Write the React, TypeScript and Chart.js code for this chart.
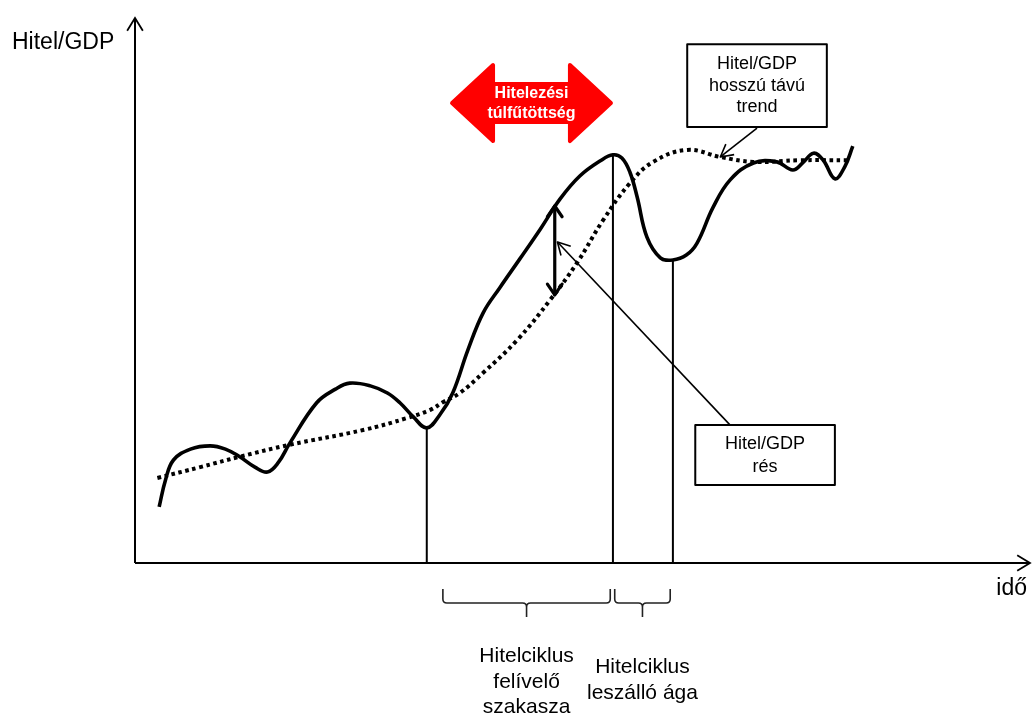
import React, { useEffect, useRef } from "react";
import { Chart, registerables } from "chart.js";

Chart.register(...registerables);

// ---- Data (arbitrary units: time 0–100, Hitel/GDP 0–100) ----
const creditGdpX = [2.7, 3.4, 4.3, 6.2, 8.4, 10.1, 11.7, 13.4, 14.8, 16.0, 17.3, 20.3, 22.4, 24.0, 26.3, 28.2, 29.6, 31.1, 32.6, 34.1, 35.5, 37.2, 38.9, 40.8, 43.0, 45.3, 47.5, 49.7, 52.0, 53.4, 54.4, 55.3, 56.1, 57.2, 58.7, 60.1, 61.6, 62.8, 64.6, 66.5, 69.1, 71.7, 73.5, 74.6, 75.8, 76.9, 78.2, 79.3, 80.2];
const creditGdpY = [10.3, 15.2, 18.9, 20.9, 21.5, 20.9, 19.5, 17.6, 16.7, 18.4, 22.0, 29.4, 31.9, 33.0, 32.5, 31.2, 29.4, 26.8, 24.8, 27.3, 31.2, 39.1, 45.9, 50.6, 55.8, 61.3, 66.8, 71.0, 73.8, 74.9, 74.3, 71.7, 67.2, 59.8, 56.0, 55.6, 56.5, 58.7, 65.3, 70.3, 73.4, 73.6, 72.1, 73.4, 75.2, 73.9, 70.5, 72.7, 76.5];

const trendX = [2.5, 7.3, 11.7, 17.3, 25.5, 30.4, 33.0, 34.4, 36.3, 38.9, 42.7, 46.4, 49.4, 52.3, 55.3, 57.9, 61.7, 65.4, 69.1, 74.3, 79.6];
const trendY = [15.6, 17.6, 19.5, 21.7, 24.4, 26.6, 28.1, 29.5, 31.2, 34.9, 40.9, 48.3, 55.1, 62.9, 69.7, 73.6, 75.8, 74.5, 73.6, 73.9, 73.9];

// turning points of the credit cycle (x values present in creditGdpX)
const turningPointsX = [32.6, 53.4, 60.1];

// phases (brackets under the time axis)
const phaseStart = [34.4, 53.6];
const phaseEnd = [53.1, 59.8];
const phaseLabels = [
  ["Hitelciklus", "felívelő", "szakasza"],
  ["Hitelciklus", "leszálló ága"],
];

// credit-to-GDP gap marker
const gapX = 46.9;
const gapTop = 65.5;
const gapBottom = 49.2;

// texts
const yAxisLabel = "Hitel/GDP";
const xAxisLabel = "idő";
const trendBoxLines = ["Hitel/GDP", "hosszú távú", "trend"];
const gapBoxLines = ["Hitel/GDP", "rés"];
const overheatingLines = ["Hitelezési", "túlfűtöttség"];

// ---- layout of annotations (data coordinates, sizes in px) ----
const layout = {
  trendBox: { x0: 61.7, x1: 77.3, y0: 95.2, y1: 80.0 },
  trendPointer: { fx: 69.5, fy: 79.8, tx: 65.4, ty: 74.5 },
  gapBox: { x0: 62.6, x1: 78.2, y0: 25.3, y1: 14.3 },
  gapPointer: { fx: 66.5, fy: 25.3, tx: 47.2, ty: 58.9 },
  overheating: { x0: 35.2, x1: 53.4, y: 84.4 },
};

const FONT = '"Liberation Sans", Arial, sans-serif';

function openHead(ctx: CanvasRenderingContext2D, tx: number, ty: number, fx: number, fy: number, len: number, spread: number) {
  const a = Math.atan2(fy - ty, fx - tx);
  ctx.beginPath();
  ctx.moveTo(tx + len * Math.cos(a + spread), ty + len * Math.sin(a + spread));
  ctx.lineTo(tx, ty);
  ctx.lineTo(tx + len * Math.cos(a - spread), ty + len * Math.sin(a - spread));
  ctx.stroke();
}

function bracket(ctx: CanvasRenderingContext2D, x1: number, x2: number, top: number, mid: number, bottom: number) {
  const xc = (x1 + x2) / 2;
  const r = 4;
  ctx.beginPath();
  ctx.moveTo(x1, top);
  ctx.lineTo(x1, mid - r);
  ctx.quadraticCurveTo(x1, mid, x1 + r, mid);
  ctx.lineTo(xc - r, mid);
  ctx.quadraticCurveTo(xc, mid, xc, mid + r);
  ctx.lineTo(xc, bottom);
  ctx.moveTo(xc, mid + r);
  ctx.quadraticCurveTo(xc, mid, xc + r, mid);
  ctx.lineTo(x2 - r, mid);
  ctx.quadraticCurveTo(x2, mid, x2, mid - r);
  ctx.lineTo(x2, top);
  ctx.stroke();
}

const axesPlugin = {
  id: "axesPlugin",
  beforeDatasetsDraw(chart: any) {
    const { ctx, chartArea: ca } = chart;
    ctx.save();
    ctx.strokeStyle = "#000";
    ctx.lineWidth = 2;
    ctx.beginPath();
    ctx.moveTo(ca.left, ca.bottom);
    ctx.lineTo(ca.left, ca.top);
    ctx.moveTo(ca.left, ca.bottom);
    ctx.lineTo(ca.right, ca.bottom);
    ctx.stroke();
    ctx.lineWidth = 1.8;
    openHead(ctx, ca.left, ca.top, ca.left, ca.bottom, 15, 0.55);
    openHead(ctx, ca.right, ca.bottom, ca.left, ca.bottom, 15, 0.55);
    ctx.restore();
  },
};

const annotationPlugin = {
  id: "annotationPlugin",
  afterDatasetsDraw(chart: any) {
    const { ctx, chartArea: ca, scales } = chart;
    const px = (v: number) => scales.x.getPixelForValue(v);
    const py = (v: number) => scales.y.getPixelForValue(v);
    ctx.save();

    // axis labels
    ctx.fillStyle = "#000";
    ctx.font = `23px ${FONT}`;
    ctx.textBaseline = "alphabetic";
    ctx.textAlign = "left";
    ctx.fillText(yAxisLabel, ca.left - 123, ca.top + 31);
    ctx.textAlign = "right";
    ctx.fillText(xAxisLabel, ca.right - 3, ca.bottom + 32);

    // gap double arrow
    const gx = px(gapX);
    const gt = py(gapTop);
    const gb = py(gapBottom);
    ctx.strokeStyle = "#000";
    ctx.lineWidth = 3.2;
    ctx.lineCap = "round";
    ctx.lineJoin = "round";
    ctx.beginPath();
    ctx.moveTo(gx, gt);
    ctx.lineTo(gx, gb);
    ctx.stroke();
    openHead(ctx, gx, gt, gx, gb, 13, 0.6);
    openHead(ctx, gx, gb, gx, gt, 13, 0.6);

    // pointers
    ctx.lineWidth = 1.6;
    ctx.lineCap = "butt";
    const tp = layout.trendPointer;
    ctx.beginPath();
    ctx.moveTo(px(tp.fx), py(tp.fy));
    ctx.lineTo(px(tp.tx), py(tp.ty));
    ctx.stroke();
    openHead(ctx, px(tp.tx), py(tp.ty), px(tp.fx), py(tp.fy), 14, 0.5);
    const gp = layout.gapPointer;
    ctx.beginPath();
    ctx.moveTo(px(gp.fx), py(gp.fy));
    ctx.lineTo(px(gp.tx), py(gp.ty));
    ctx.stroke();
    openHead(ctx, px(gp.tx), py(gp.ty), px(gp.fx), py(gp.fy), 14, 0.5);

    // boxes
    const drawBox = (b: any, lines: string[], lineH: number) => {
      const x0 = px(b.x0), x1 = px(b.x1), y0 = py(b.y0), y1 = py(b.y1);
      ctx.fillStyle = "#fff";
      ctx.fillRect(x0, y0, x1 - x0, y1 - y0);
      ctx.strokeStyle = "#000";
      ctx.lineWidth = 2;
      ctx.strokeRect(x0, y0, x1 - x0, y1 - y0);
      ctx.fillStyle = "#000";
      ctx.font = `18px ${FONT}`;
      ctx.textAlign = "center";
      ctx.textBaseline = "middle";
      const cx = (x0 + x1) / 2;
      const cy = (y0 + y1) / 2;
      lines.forEach((l, i) => {
        ctx.fillText(l, cx, cy + (i - (lines.length - 1) / 2) * lineH);
      });
    };
    drawBox(layout.trendBox, trendBoxLines, 21.5);
    drawBox(layout.gapBox, gapBoxLines, 23);

    // red double arrow
    const o = layout.overheating;
    const lx = px(o.x0) + 2, rx = px(o.x1) - 2, cy = py(o.y);
    const hl = 41, hh = 38, sh = 19;
    ctx.beginPath();
    ctx.moveTo(lx, cy);
    ctx.lineTo(lx + hl, cy - hh);
    ctx.lineTo(lx + hl, cy - sh);
    ctx.lineTo(rx - hl, cy - sh);
    ctx.lineTo(rx - hl, cy - hh);
    ctx.lineTo(rx, cy);
    ctx.lineTo(rx - hl, cy + hh);
    ctx.lineTo(rx - hl, cy + sh);
    ctx.lineTo(lx + hl, cy + sh);
    ctx.lineTo(lx + hl, cy + hh);
    ctx.closePath();
    ctx.fillStyle = "#ff0000";
    ctx.strokeStyle = "#ff0000";
    ctx.lineWidth = 4;
    ctx.lineJoin = "round";
    ctx.fill();
    ctx.stroke();
    ctx.fillStyle = "#fff";
    ctx.font = `bold 16px ${FONT}`;
    ctx.textAlign = "center";
    ctx.textBaseline = "middle";
    const mx = (lx + rx) / 2;
    overheatingLines.forEach((l, i) => {
      ctx.fillText(l, mx, cy + 1 + (i - 0.5) * 20);
    });

    // phase brackets and labels
    ctx.strokeStyle = "#222";
    ctx.lineWidth = 1.6;
    ctx.lineJoin = "miter";
    ctx.fillStyle = "#000";
    ctx.font = `21px ${FONT}`;
    ctx.textAlign = "center";
    ctx.textBaseline = "alphabetic";
    const firstBaseline = [99, 110];
    phaseStart.forEach((s, i) => {
      const x1 = px(s), x2 = px(phaseEnd[i]);
      bracket(ctx, x1, x2, ca.bottom + 26, ca.bottom + 40, ca.bottom + 54);
      phaseLabels[i].forEach((l, j) => {
        ctx.fillText(l, (x1 + x2) / 2, ca.bottom + firstBaseline[i] + j * 25.5);
      });
    });

    ctx.restore();
  },
};

export default function App() {
  const canvasRef = useRef<HTMLCanvasElement | null>(null);

  useEffect(() => {
    if (!canvasRef.current) return;
    const curve = creditGdpX.map((x, i) => ({ x, y: creditGdpY[i] }));
    const trend = trendX.map((x, i) => ({ x, y: trendY[i] }));
    const verticals = turningPointsX.map((tx) => ({
      data: [
        { x: tx, y: 0 },
        { x: tx, y: creditGdpY[creditGdpX.indexOf(tx)] },
      ],
      borderColor: "#000",
      borderWidth: 2,
      pointRadius: 0,
      tension: 0,
      clip: false as any,
    }));

    const chart = new Chart(canvasRef.current, {
      type: "line",
      data: {
        datasets: [
          ...verticals,
          {
            data: trend,
            borderColor: "#000",
            borderWidth: 4,
            borderDash: [3.6, 3.6],
            borderCapStyle: "butt",
            pointRadius: 0,
            tension: 0.4,
            clip: false as any,
          },
          {
            data: curve,
            borderColor: "#000",
            borderWidth: 3.6,
            borderCapStyle: "butt",
            pointRadius: 0,
            tension: 0.4,
            clip: false as any,
          },
        ] as any,
      },
      options: {
        responsive: false,
        maintainAspectRatio: false,
        animation: false,
        layout: { padding: { left: 135, top: 18, right: 2, bottom: 153 } },
        plugins: { legend: { display: false }, tooltip: { enabled: false } },
        events: [],
        scales: {
          x: { type: "linear", min: 0, max: 100, display: false },
          y: { type: "linear", min: 0, max: 100, display: false },
        },
      },
      plugins: [axesPlugin, annotationPlugin],
    });
    return () => chart.destroy();
  }, []);

  return (
    <div style={{ position: "fixed", left: 0, top: 0, width: 1032, height: 716, background: "#fff" }}>
      <canvas ref={canvasRef} width={1032} height={716} style={{ display: "block" }} />
    </div>
  );
}
